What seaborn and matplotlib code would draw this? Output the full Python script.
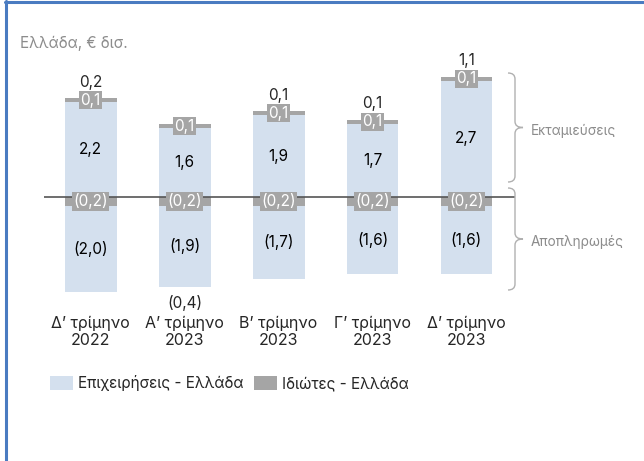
import numpy as np
import pandas as pd
import matplotlib
matplotlib.use('Agg')
import matplotlib.pyplot as plt
from matplotlib.path import Path
from matplotlib.patches import PathPatch, Patch
from matplotlib.lines import Line2D
from matplotlib.transforms import Affine2D
import seaborn as sns

# =====================
# Data (€ bn, Greece)
# =====================
quarters = ['Δ’ τρίμηνο\n2022', 'Α’ τρίμηνο\n2023', 'Β’ τρίμηνο\n2023',
            'Γ’ τρίμηνο\n2023', 'Δ’ τρίμηνο\n2023']
disb_business = [2.2, 1.6, 1.9, 1.7, 2.7]
disb_private = [0.1, 0.1, 0.1, 0.1, 0.1]
repay_private = [-0.2, -0.2, -0.2, -0.2, -0.2]
repay_business = [-2.0, -1.9, -1.7, -1.6, -1.6]
net_values = [0.2, -0.4, 0.1, 0.1, 1.1]

BLUE = '#d4e0ee'
GRAY = '#a5a5a5'
TXT_GRAY = '#8c8c8c'

def fmt(v):
    s = f'{abs(v):.1f}'.replace('.', ',')
    return f'({s})' if v < 0 else s

sns.set_style('white')
plt.rcParams['font.family'] = ['Inter', 'DejaVu Sans']

fig = plt.figure(figsize=(6.44, 4.61), dpi=100)
W, H = 644, 461
ax = fig.add_axes([44 / W, (H - 310) / H, (515 - 44) / W, 255 / H])

df = pd.DataFrame({'q': quarters,
                   'disb_business': disb_business,
                   'disb_private': disb_private,
                   'repay_private': repay_private,
                   'repay_business': repay_business})

bw = 0.553
sns.barplot(data=df, x='q', y='disb_business', color=BLUE, width=bw,
            saturation=1, errorbar=None, ax=ax, linewidth=0)
sns.barplot(data=df, x='q', y='disb_private', color=GRAY, width=bw,
            saturation=1, errorbar=None, ax=ax, linewidth=0,
            bottom=df['disb_business'])
sns.barplot(data=df, x='q', y='repay_private', color=GRAY, width=bw,
            saturation=1, errorbar=None, ax=ax, linewidth=0)
sns.barplot(data=df, x='q', y='repay_business', color=BLUE, width=bw,
            saturation=1, errorbar=None, ax=ax, linewidth=0,
            bottom=df['repay_private'])

ax.set_xlim(-0.495, 4.516)
ax.set_ylim(-2.628, 3.302)
ax.axhline(0, color='#555555', lw=1.2, zorder=1)

# value labels
VS = 11
x = np.arange(len(quarters))
for i in x:
    b, p = disb_business[i], disb_private[i]
    rp, rb = repay_private[i], repay_business[i]
    ax.text(i, b / 2, fmt(b), ha='center', va='center', fontsize=VS, color='black')
    ax.text(i, rp + rb / 2, fmt(rb), ha='center', va='center', fontsize=VS, color='black')
    box = dict(boxstyle='square,pad=0.1', fc=GRAY, ec='none')
    ax.text(i, b + p / 2, fmt(p), ha='center', va='center', fontsize=VS,
            color='white', bbox=box, zorder=5)
    ax.text(i, rp / 2, fmt(rp), ha='center', va='center', fontsize=VS,
            color='white', bbox=box, zorder=5)
    net = net_values[i]
    if net >= 0:
        ax.annotate(fmt(net), (i, b + p), xytext=(0, 11.5), textcoords='offset points',
                    ha='center', va='center', fontsize=VS)
    else:
        ax.annotate(fmt(net), (i, rp + rb), xytext=(0, -11), textcoords='offset points',
                    ha='center', va='center', fontsize=VS)

ax.set_xlabel('')
ax.set_ylabel('')
ax.set_yticks([])
ax.tick_params(axis='x', length=0, pad=4, labelsize=11.5)
sns.despine(ax=ax, left=True, bottom=True)

# title
fig.text(20 / W, 1 - 43 / H, 'Ελλάδα, € δισ.', fontsize=11, color=TXT_GRAY,
         va='center', ha='left')

# braces (pixel coords, y from top)
pix = Affine2D().scale(1, -1).translate(0, H)

def brace(y_top, y_bot, x_end=508, x_line=515, x_tip=523, r=6):
    ym = (y_top + y_bot) / 2
    verts = [(x_end, y_top), (x_line, y_top), (x_line, y_top + r),
             (x_line, ym - r), (x_line, ym), (x_tip, ym),
             (x_line, ym), (x_line, ym + r),
             (x_line, y_bot - r), (x_line, y_bot), (x_end, y_bot)]
    codes = [Path.MOVETO, Path.CURVE3, Path.CURVE3,
             Path.LINETO, Path.CURVE3, Path.CURVE3,
             Path.CURVE3, Path.CURVE3,
             Path.LINETO, Path.CURVE3, Path.CURVE3]
    fig.add_artist(PathPatch(Path(verts, codes), fc='none', ec='#b0b0b0', lw=1,
                             transform=pix))
    return ym

ym1 = brace(73, 182)
ym2 = brace(188, 290)
fig.text(531 / W, 1 - (ym1 + 3) / H, 'Εκταμιεύσεις', fontsize=9.8, color=TXT_GRAY,
         va='center', ha='left')
fig.text(531 / W, 1 - (ym2 + 3) / H, 'Αποπληρωμές', fontsize=9.8, color=TXT_GRAY,
         va='center', ha='left')

# legend
handles = [Patch(fc=BLUE, ec='none', label='Επιχειρήσεις - Ελλάδα'),
           Patch(fc=GRAY, ec='none', label='Ιδιώτες - Ελλάδα')]
fig.legend(handles=handles, loc='upper left', bbox_to_anchor=(50 / W, 1 - 375 / H),
           frameon=False, ncol=2, fontsize=11, borderpad=0, borderaxespad=0,
           handlelength=1.5, handleheight=1.05, handletextpad=0.33,
           columnspacing=0.7)

# frame lines
fig.add_artist(Line2D([5, W], [2, 2], color='#4a7bc1', lw=2.2, transform=pix))
fig.add_artist(Line2D([6, 6], [1, H], color='#4a7bc1', lw=2.2, transform=pix))

fig.savefig('out.png', dpi=100)
